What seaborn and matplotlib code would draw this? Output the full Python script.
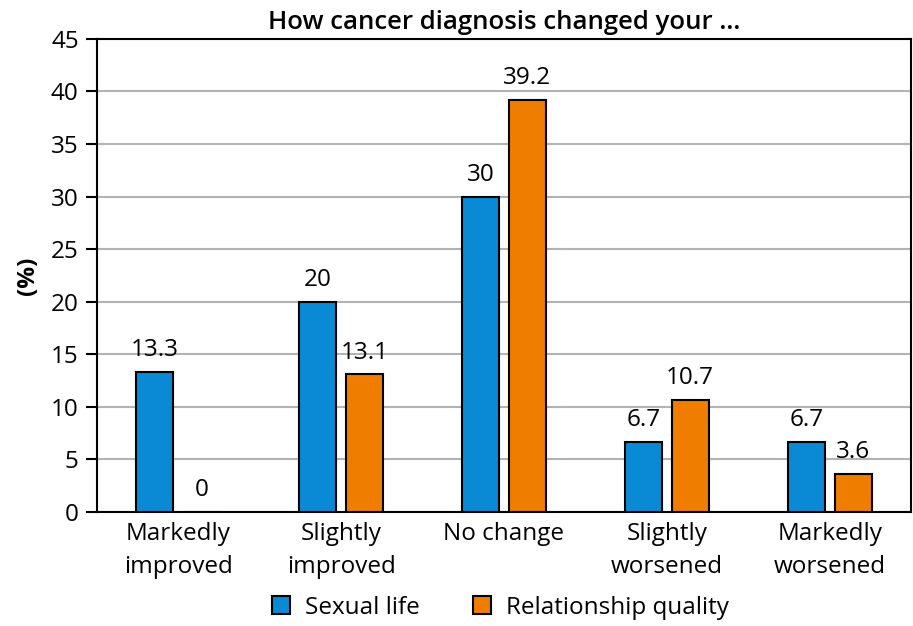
import matplotlib
matplotlib.use('Agg')
import matplotlib.pyplot as plt
import seaborn as sns
import pandas as pd
from matplotlib.patches import Patch

categories = ['Markedly\nimproved', 'Slightly\nimproved', 'No change', 'Slightly\nworsened', 'Markedly\nworsened']
sexual_life = [13.3, 20, 30, 6.7, 6.7]
relationship = [0, 13.1, 39.2, 10.7, 3.6]
series = ['Sexual life', 'Relationship quality']
colors = ['#0a8ad4', '#ef7d00']

df = pd.DataFrame({
    'category': categories * 2,
    'value': sexual_life + relationship,
    'series': [series[0]] * 5 + [series[1]] * 5,
})

sns.set_style('white')
plt.rcParams['font.family'] = ['Open Sans', 'DejaVu Sans']
plt.rcParams['text.color'] = 'black'
plt.rcParams['xtick.color'] = 'black'
plt.rcParams['ytick.color'] = 'black'
plt.rcParams['axes.labelcolor'] = 'black'

fig, ax = plt.subplots(figsize=(9.13, 6.26), dpi=100)
sns.barplot(data=df, x='category', y='value', hue='series', palette=colors,
            saturation=1, width=0.574, gap=0.21, edgecolor='black', linewidth=1.5,
            legend=False, ax=ax, zorder=3)

for cont in ax.containers:
    ax.bar_label(cont, fmt='%g', padding=7, fontsize=17.5)

ax.set_ylim(0, 45)
ax.set_yticks(range(0, 46, 5))
ax.set_xlim(-0.5, 4.5)
ax.yaxis.grid(True, color='#b3b3b3', linewidth=1.5, zorder=0)
ax.set_axisbelow(True)
for sp in ax.spines.values():
    sp.set_color('black')
    sp.set_linewidth(1.5)
ax.tick_params(axis='y', left=True, length=8, width=1.5, labelsize=17.5, pad=5)
ax.tick_params(axis='x', bottom=False, labelsize=17.5, pad=4)
for lbl in ax.get_xticklabels():
    lbl.set_linespacing(1.45)
ax.set_xlabel('')
ax.set_ylabel('(%)', fontsize=17.5, fontweight='bold', labelpad=8)
ax.set_title('How cancer diagnosis changed your ...', fontsize=18.5, fontweight='semibold', pad=7)

handles = [Patch(facecolor=c, edgecolor='black', linewidth=1.5) for c in colors]
fig.legend(handles, series, loc='lower center', bbox_to_anchor=(0.548, -0.025), ncol=2,
           frameon=False, fontsize=17.5, handlelength=0.75, handleheight=0.75,
           columnspacing=2.2, handletextpad=0.6)

plt.subplots_adjust(left=0.106, right=0.998, top=0.938, bottom=0.182)
plt.savefig('out.png', dpi=100)
